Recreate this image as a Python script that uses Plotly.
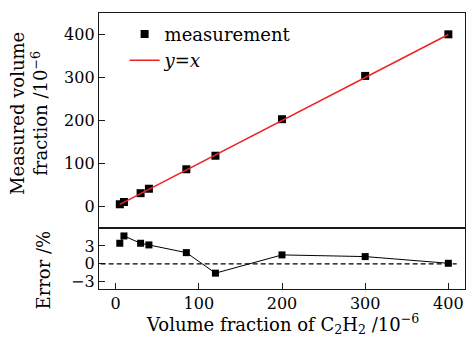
import plotly.graph_objects as go

# ---- data ----
conc = [5, 10, 30, 40, 85, 120, 200, 300, 400]
measured = [5.2, 10.5, 31.0, 41.3, 86.6, 118.1, 203.0, 303.7, 400.4]
error_pct = [3.45, 4.67, 3.45, 3.17, 1.88, -1.55, 1.5, 1.22, 0.1]
fit_x = [5, 400]
fit_y = [5, 400]
x_ticks = [0, 100, 200, 300, 400]
y_ticks_top = [0, 100, 200, 300, 400]
y_ticks_bot = [-3, 0, 3]

FONT = "DejaVu Serif"
AX = "#1a1a1a"

fig = go.Figure()
fig.add_trace(go.Scatter(x=conc, y=measured, mode="markers", name="measurement",
                         marker=dict(symbol="square", size=8, color="black"),
                         xaxis="x", yaxis="y"))
fig.add_trace(go.Scatter(x=fit_x, y=fit_y, mode="lines", name="<i>y</i>=<i>x</i>",
                         line=dict(color="#ee2222", width=1.5),
                         xaxis="x", yaxis="y"))
fig.add_trace(go.Scatter(x=conc, y=error_pct, mode="lines+markers", showlegend=False,
                         line=dict(color="black", width=1),
                         marker=dict(symbol="square", size=7, color="black"),
                         xaxis="x2", yaxis="y2"))

split = 61 / 276
common_ax = dict(showline=True, linecolor=AX, linewidth=1.3, mirror=True,
                 ticklen=6, tickcolor=AX, tickwidth=1,
                 showgrid=False, zeroline=False,
                 tickfont=dict(family=FONT, size=16, color="black"))

fig.update_layout(
    width=466, height=338,
    margin=dict(l=99, r=1, t=13, b=49),
    plot_bgcolor="white", paper_bgcolor="white",
    font=dict(family=FONT, color="black"),
    xaxis=dict(domain=[0, 1], range=[-20, 420], anchor="y", showticklabels=False,
               ticks="", **common_ax),
    yaxis=dict(domain=[split, 1], range=[-50, 450], anchor="x",
               tickvals=y_ticks_top, ticks="inside", **common_ax),
    xaxis2=dict(domain=[0, 1], range=[-20, 420], anchor="y2",
                tickvals=x_ticks, ticks="inside", **common_ax),
    yaxis2=dict(domain=[0, split], range=[-4.2, 6], anchor="x2",
                tickvals=y_ticks_bot, ticktext=["−3", "0", "3"], ticks="inside", **common_ax),
    legend=dict(x=0.07, y=0.99, xanchor="left", yanchor="top",
                bgcolor="rgba(0,0,0,0)", font=dict(family=FONT, size=18),
                tracegroupgap=0, itemwidth=30),
    showlegend=True,
)

fig.add_shape(type="line", xref="x2", yref="y2", x0=-18, x1=410, y0=0, y1=0,
              line=dict(color="black", width=1.2, dash="5px,3px"))

fig.add_annotation(text="Measured volume<br>fraction /10<sup>−6</sup>", xref="paper", yref="paper",
                   x=0, y=0.634, xshift=-70, textangle=-90, showarrow=False,
                   font=dict(family=FONT, size=18), xanchor="center", yanchor="middle")
fig.add_annotation(text="Error /%", xref="paper", yref="paper",
                   x=0, y=split / 2, xshift=-56, yshift=-12, textangle=-90, showarrow=False,
                   font=dict(family=FONT, size=18), xanchor="center", yanchor="middle")
fig.add_annotation(text="Volume fraction of C<sub>2</sub>H<sub>2</sub> /10<sup>−6</sup>",
                   xref="paper", yref="paper", x=0.5, y=0, yshift=-35, showarrow=False,
                   font=dict(family=FONT, size=18), xanchor="center", yanchor="middle")

fig.write_html("out.html")
